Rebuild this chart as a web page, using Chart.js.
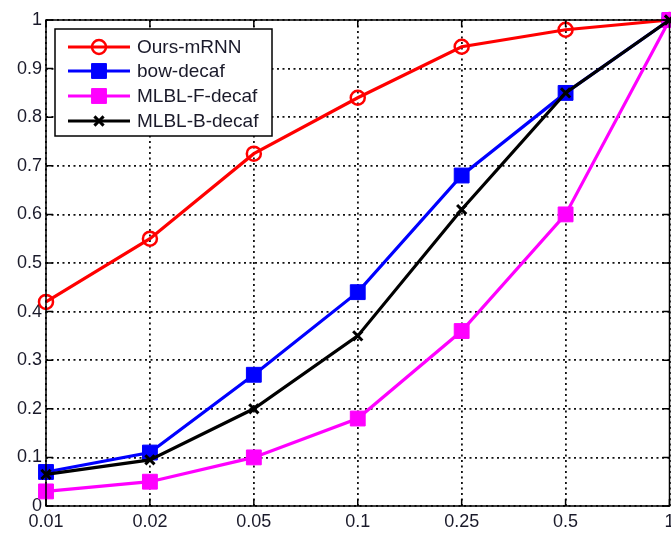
<!DOCTYPE html>
<html>
<head>
<meta charset="utf-8">
<script src="https://cdn.jsdelivr.net/npm/chart.js@4.4.0/dist/chart.umd.min.js"></script>
<style>
  html, body { margin: 0; padding: 0; background: #fff; overflow: hidden; }
  #wrap { width: 671px; height: 534px; position: relative; overflow: hidden; }
  #c { display: block; }
</style>
</head>
<body>
<div id="wrap"><canvas id="c" width="681" height="534"></canvas></div>
<script>
const categories = ['0.01', '0.02', '0.05', '0.1', '0.25', '0.5', '1'];
const oursMRNN = [0.42, 0.55, 0.725, 0.84, 0.945, 0.98, 1.0];
const bowDecaf = [0.07, 0.11, 0.27, 0.44, 0.68, 0.85, 1.0];
const mlblFDecaf = [0.03, 0.05, 0.10, 0.18, 0.36, 0.60, 1.0];
const mlblBDecaf = [0.065, 0.095, 0.20, 0.35, 0.61, 0.85, 1.0];
const seriesNames = ['Ours-mRNN', 'bow-decaf', 'MLBL-F-decaf', 'MLBL-B-decaf'];
const yTickValues = [0, 0.1, 0.2, 0.3, 0.4, 0.5, 0.6, 0.7, 0.8, 0.9, 1];

const FONT = '"Liberation Sans", Arial, sans-serif';

const framePlugin = {
  id: 'frame',
  afterDatasetsDraw(chart) {
    const { ctx, chartArea: a, scales } = chart;
    ctx.save();
    ctx.strokeStyle = '#000';
    ctx.lineWidth = 1.5;
    ctx.setLineDash([]);
    ctx.strokeRect(a.left, a.top, a.right - a.left, a.bottom - a.top);
    const tl = 7;
    ctx.beginPath();
    scales.x.ticks.forEach((t, i) => {
      const x = scales.x.getPixelForTick(i);
      ctx.moveTo(x, a.bottom); ctx.lineTo(x, a.bottom - tl);
      ctx.moveTo(x, a.top); ctx.lineTo(x, a.top + tl);
    });
    scales.y.ticks.forEach((t, i) => {
      const y = scales.y.getPixelForTick(i);
      ctx.moveTo(a.left, y); ctx.lineTo(a.left + tl, y);
      ctx.moveTo(a.right, y); ctx.lineTo(a.right - tl, y);
    });
    ctx.stroke();
    ctx.restore();
  },
  afterDraw(chart) {
    const { ctx } = chart;
    const bx = 55, by = 29, bw = 217, bh = 107;
    ctx.save();
    ctx.fillStyle = '#fff';
    ctx.fillRect(bx, by, bw, bh);
    ctx.strokeStyle = '#000';
    ctx.lineWidth = 1.5;
    ctx.strokeRect(bx, by, bw, bh);
    const rowY = [47, 71, 96, 121];
    chart.data.datasets.forEach((ds, i) => {
      const y = rowY[i];
      ctx.strokeStyle = ds.borderColor;
      ctx.lineWidth = ds.borderWidth;
      ctx.beginPath();
      ctx.moveTo(68, y); ctx.lineTo(130, y);
      ctx.stroke();
      ctx.fillStyle = ds.pointBackgroundColor;
      ctx.strokeStyle = ds.pointBorderColor;
      ctx.lineWidth = ds.pointBorderWidth;
      Chart.helpers.drawPoint(ctx, {
        pointStyle: ds.pointStyle,
        radius: ds.pointRadius,
        borderWidth: ds.pointBorderWidth
      }, 99, y);
      ctx.fillStyle = '#1a1a2a';
      ctx.font = '19px ' + FONT;
      ctx.textBaseline = 'middle';
      ctx.textAlign = 'left';
      ctx.fillText(ds.label, 137, y + 1);
    });
    ctx.restore();
  }
};

function mk(label, data, color, style, radius, fill, order) {
  return {
    label, data,
    borderColor: color,
    borderWidth: 3.2,
    backgroundColor: color,
    pointStyle: style,
    pointRadius: radius,
    pointHoverRadius: radius,
    pointBorderWidth: style === 'circle' ? 2.5 : (style === 'crossRot' ? 3 : 1),
    pointBorderColor: color,
    pointBackgroundColor: fill,
    tension: 0,
    clip: false,
    order
  };
}

new Chart(document.getElementById('c'), {
  type: 'line',
  data: {
    labels: categories,
    datasets: [
      mk(seriesNames[0], oursMRNN, '#ff0000', 'circle', 7, 'rgba(0,0,0,0)', 4),
      mk(seriesNames[1], bowDecaf, '#0000ff', 'rect', 10.5, '#0000ff', 3),
      mk(seriesNames[2], mlblFDecaf, '#ff00ff', 'rect', 10.5, '#ff00ff', 2),
      mk(seriesNames[3], mlblBDecaf, '#000000', 'crossRot', 6.5, '#000000', 1)
    ]
  },
  options: {
    responsive: false,
    animation: false,
    devicePixelRatio: 1,
    layout: { padding: { top: 20, right: 3, left: 0, bottom: 0 } },
    plugins: { legend: { display: false }, tooltip: { enabled: false } },
    scales: {
      x: {
        offset: false,
        grid: { color: '#111', lineWidth: 1.8, drawTicks: false },
        border: { display: false, dash: [2, 3.5] },
        ticks: {
          color: '#1a1a2a', font: { family: FONT, size: 18 }, padding: 5,
          maxRotation: 0, autoSkip: false
        },
        afterFit(s) { s.height = 28; s.paddingLeft = 0; s.paddingRight = 0; }
      },
      y: {
        min: 0, max: 1,
        afterBuildTicks(s) { s.ticks = yTickValues.map(v => ({ value: v })); },
        grid: { color: '#111', lineWidth: 1.8, drawTicks: false },
        border: { display: false, dash: [2, 3.5] },
        ticks: {
          color: '#1a1a2a', font: { family: FONT, size: 18 }, padding: 4,
          callback(v) { const r = Math.round(v * 10) / 10; return r === 0 ? '0' : (r === 1 ? '1' : r.toFixed(1)); }
        },
        afterFit(s) { s.width = 46; s.paddingTop = 0; s.paddingBottom = 0; }
      }
    }
  },
  plugins: [framePlugin]
});
</script>
</body>
</html>
